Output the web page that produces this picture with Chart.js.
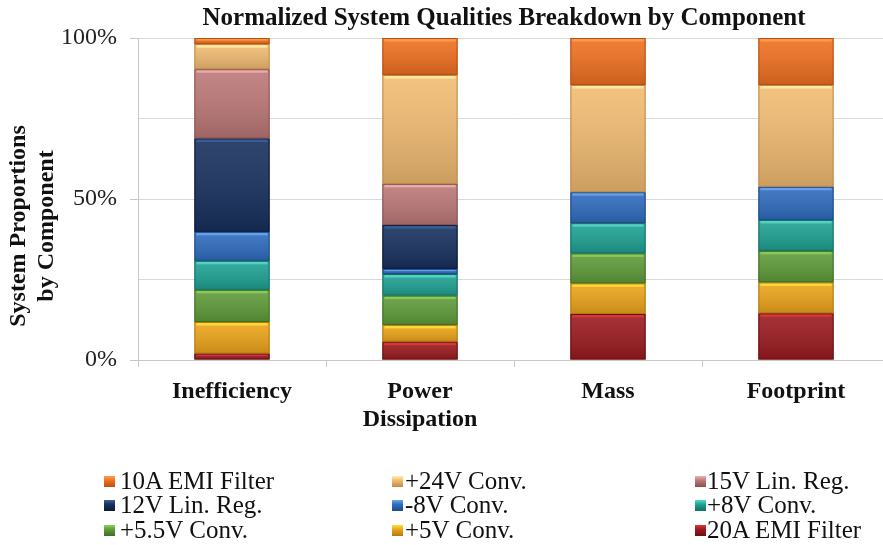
<!DOCTYPE html>
<html>
<head>
<meta charset="utf-8">
<script src="https://cdn.jsdelivr.net/npm/chart.js@4/dist/chart.umd.min.js"></script>
<style>
  html, body { margin: 0; padding: 0; background: #fff; overflow: hidden; }
  #wrap { position: relative; width: 883px; height: 545px; overflow: hidden; }
  #chart { position: absolute; left: 0; top: 0; }
  #legend { position: absolute; left: 0; top: 0; width: 883px; height: 545px; pointer-events: none;
            font-family: "Liberation Serif", "Times New Roman", serif; font-size: 25px; color: #111; }
  .item { position: absolute; white-space: nowrap; line-height: 24px; }
  .sw { position: absolute; width: 11px; height: 11px; top: 7px; left: 0; }
  .lbl { position: absolute; top: 0; }
</style>
</head>
<body>
<div id="wrap">
  <canvas id="chart" width="892" height="545" style="width:892px;height:545px"></canvas>
  <div id="legend"></div>
</div>
<script>
// Categories along the x axis
const categories = ['Inefficiency', ['Power', 'Dissipation'], 'Mass', 'Footprint'];

// Share of each system quality (%) per component, listed bottom of stack first
const emi20A  = [2.0, 5.7, 14.3, 14.5];
const conv5   = [9.8, 5.2, 9.5, 9.6];
const conv55  = [10.0, 9.1, 9.3, 9.8];
const conv8   = [9.0, 6.7, 9.4, 9.6];
const convN8  = [9.0, 1.6, 9.6, 10.3];
const lin12   = [29.0, 13.6, 0, 0];
const lin15   = [21.5, 12.8, 0, 0];
const conv24  = [7.8, 33.8, 33.3, 31.6];
const emi10A  = [1.9, 11.5, 14.6, 14.6];

const seriesNames = ['20A EMI Filter', '+5V Conv.', '+5.5V Conv.', '+8V Conv.', '-8V Conv.',
                     '12V Lin. Reg.', '15V Lin. Reg.', '+24V Conv.', '10A EMI Filter'];
const seriesValues = [emi20A, conv5, conv55, conv8, convN8, lin12, lin15, conv24, emi10A];

// y-axis tick values that carry a label
const yLabelTicks = [0, 50, 100];

const palette = [
  { fill: '#9b1a1f', top: '#e0383a', edge: '#6a0f12' },
  { fill: '#eda51a', top: '#ffe03a', edge: '#b07a10' },
  { fill: '#5f9c3a', top: '#8fd05a', edge: '#3f6e25' },
  { fill: '#1ea294', top: '#5ad8c8', edge: '#137062' },
  { fill: '#2f6cbf', top: '#6aa8f0', edge: '#1c4a88' },
  { fill: '#17305e', top: '#3a62a0', edge: '#0c1b38' },
  { fill: '#bd7878', top: '#f0b0b0', edge: '#8a5050' },
  { fill: '#f2bc72', top: '#fff0a8', edge: '#c08a48' },
  { fill: '#f07020', top: '#ffa050', edge: '#b84e10' }
];

const SERIF = '"Liberation Serif", "Times New Roman", serif';
const canvas = document.getElementById('chart');

const bevelPlugin = {
  id: 'bevel',
  afterDatasetsDraw(chart) {
    const ctx = chart.ctx;
    chart.data.datasets.forEach((ds, i) => {
      const meta = chart.getDatasetMeta(i);
      const col = palette[i];
      meta.data.forEach((bar, j) => {
        if (!ds.data[j]) return;
        const x0 = bar.x - bar.width / 2;
        const yTop = Math.min(bar.y, bar.base), yBot = Math.max(bar.y, bar.base);
        const h = yBot - yTop;
        ctx.save();
        // soft body shading
        const g = ctx.createLinearGradient(0, yTop, 0, yBot);
        g.addColorStop(0, 'rgba(255,255,255,0.10)');
        g.addColorStop(1, 'rgba(0,0,0,0.16)');
        ctx.fillStyle = g;
        ctx.fillRect(x0, yTop, bar.width, h);
        // bright top lip
        const lip = Math.min(3, h / 3);
        ctx.fillStyle = col.top;
        ctx.globalAlpha = 0.85;
        ctx.fillRect(x0 + 2, yTop + 0.5, bar.width - 4, lip);
        ctx.globalAlpha = 1;
        // dark rim
        ctx.strokeStyle = col.edge;
        ctx.lineWidth = 1;
        ctx.strokeRect(x0 + 0.5, yTop + 0.5, bar.width - 1, h - 1);
        ctx.restore();
      });
    });
  }
};

const textPlugin = {
  id: 'texts',
  afterDraw(chart) {
    const ctx = chart.ctx;
    ctx.save();
    ctx.fillStyle = '#111';
    ctx.textAlign = 'center';
    ctx.textBaseline = 'middle';
    ctx.font = 'bold 25px ' + SERIF;
    ctx.fillText('Normalized System Qualities Breakdown by Component', 504, 19);
    ctx.translate(0, 226);
    ctx.rotate(-Math.PI / 2);
    ctx.font = 'bold 24px ' + SERIF;
    ctx.fillText('System Proportions', 0, 19);
    ctx.fillText('by Component', 0, 47);
    ctx.restore();
  }
};

const chart = new Chart(canvas, {
  type: 'bar',
  data: {
    labels: categories,
    datasets: seriesNames.map((name, i) => ({
      label: name,
      data: seriesValues[i],
      backgroundColor: palette[i].fill,
      borderWidth: 0,
      barPercentage: 0.4,
      categoryPercentage: 1.0
    }))
  },
  options: {
    responsive: false,
    animation: false,
    layout: { padding: { top: 38, right: 2, bottom: 0, left: 0 } },
    plugins: {
      legend: { display: false },
      tooltip: { enabled: false },
      title: { display: false }
    },
    scales: {
      x: {
        stacked: true,
        offset: true,
        afterFit(scale) { scale.height = 185; },
        grid: {
          offset: true,
          drawOnChartArea: false,
          drawTicks: true,
          tickLength: 7,
          color: '#c8c8c8'
        },
        border: { color: '#c8c8c8' },
        ticks: {
          color: '#111',
          padding: 10,
          maxRotation: 0,
          font: { family: SERIF, size: 24, weight: 'bold', lineHeight: 1.2 }
        }
      },
      y: {
        stacked: true,
        min: 0,
        max: 100,
        afterFit(scale) { scale.width = 138; },
        afterBuildTicks(scale) {
          scale.ticks = [0, 25, 50, 75, 100].map(v => ({ value: v }));
        },
        grid: {
          color: '#d9d9d9',
          tickLength: 8,
          tickColor: ctx => yLabelTicks.includes(ctx.tick.value) ? '#c8c8c8' : 'rgba(0,0,0,0)'
        },
        border: { color: '#c8c8c8' },
        ticks: {
          color: '#222',
          padding: 13,
          font: { family: SERIF, size: 24 },
          callback: v => yLabelTicks.includes(v) ? v + '%' : ''
        }
      }
    }
  },
  plugins: [bevelPlugin, textPlugin]
});

// Legend: three columns, read row by row from the top of the stack down
const legendOrder = [8, 7, 6, 5, 4, 3, 2, 1, 0];
const colX = [104, 392, 695];
const textGap = [16, 13, 12];
const rowY = [469, 493, 518];
const legendEl = document.getElementById('legend');
legendOrder.forEach((dsIndex, k) => {
  const col = k % 3, row = Math.floor(k / 3);
  const item = document.createElement('div');
  item.className = 'item';
  item.style.left = colX[col] + 'px';
  item.style.top = rowY[row] + 'px';
  const sw = document.createElement('span');
  sw.className = 'sw';
  const p = palette[dsIndex];
  sw.style.background = 'linear-gradient(' + p.top + ',' + p.fill + ' 40%,' + p.edge + ')';
  const lbl = document.createElement('span');
  lbl.className = 'lbl';
  lbl.style.left = textGap[col] + 'px';
  lbl.textContent = seriesNames[dsIndex];
  item.appendChild(sw);
  item.appendChild(lbl);
  legendEl.appendChild(item);
});
</script>
</body>
</html>
